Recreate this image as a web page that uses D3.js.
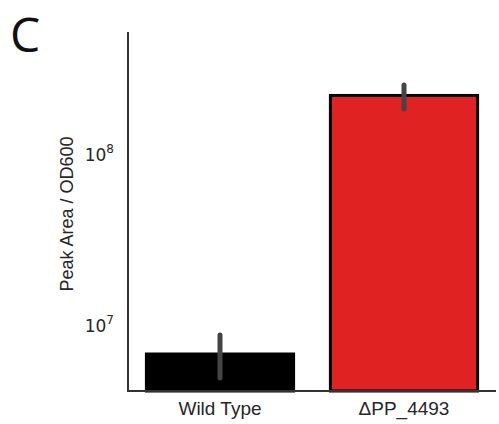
<!DOCTYPE html>
<html><head><meta charset="utf-8">
<script src="https://cdn.jsdelivr.net/npm/d3@7"></script>
<style>body{margin:0;background:#fff}svg{display:block}</style>
</head><body>
<svg id="c" width="499" height="424"></svg>
<script>
const categories = ["Wild Type", "ΔPP_4493"];
const values = [6.68e6, 2.17e8];
const errLow = [4.83e6, 1.81e8];
const errHigh = [8.63e6, 2.50e8];
const colors = ["#000000", "#E02222"];
const yTicks = [1e7, 1e8];
const yDomain = [4.06e6, 5.1e8];

const svg = d3.select("#c");
const x = d3.scaleBand().domain(categories).range([128, 496]).paddingInner(0.2).paddingOuter(0.1);
const y = d3.scaleLog().domain(yDomain).range([391, 32]);

// panel letter
svg.append("text").attr("x", 10).attr("y", 52).attr("font-family", "Open Sans").attr("font-size", 48).attr("fill", "#111").text("C");

// bars
svg.selectAll("rect.bar").data(categories).enter().append("rect")
  .attr("x", d => x(d)).attr("width", x.bandwidth())
  .attr("y", (d, i) => y(values[i])).attr("height", (d, i) => y.range()[0] - y(values[i]))
  .attr("fill", (d, i) => colors[i]).attr("stroke", "#000").attr("stroke-width", 3);

// error bars
svg.selectAll("line.err").data(categories).enter().append("line")
  .attr("x1", d => x(d) + x.bandwidth() / 2).attr("x2", d => x(d) + x.bandwidth() / 2)
  .attr("y1", (d, i) => y(errHigh[i])).attr("y2", (d, i) => y(errLow[i]))
  .attr("stroke", "#444").attr("stroke-width", 5).attr("stroke-linecap", "round");

// axes lines
svg.append("line").attr("x1", 128).attr("x2", 128).attr("y1", 32).attr("y2", 392).attr("stroke", "#333").attr("stroke-width", 2);
svg.append("line").attr("x1", 127).attr("x2", 496).attr("y1", 391).attr("y2", 391).attr("stroke", "#333").attr("stroke-width", 2);

// y tick labels
const yt = svg.selectAll("text.yt").data(yTicks).enter().append("text")
  .attr("x", 114).attr("y", d => y(d) + 7.5).attr("text-anchor", "end")
  .attr("font-family", "DejaVu Sans").attr("font-size", 17).attr("fill", "#262626");
yt.append("tspan").text("10");
yt.append("tspan").attr("dy", -7.5).attr("font-size", 12).text(d => Math.round(Math.log10(d)));

// x tick labels
svg.selectAll("text.xt").data(categories).enter().append("text")
  .attr("x", d => x(d) + x.bandwidth() / 2).attr("y", 415).attr("text-anchor", "middle")
  .attr("font-family", "Liberation Sans").attr("font-size", 19).attr("fill", "#262626").text(d => d);

// y label
svg.append("text").attr("transform", "translate(73,214) rotate(-90)").attr("text-anchor", "middle")
  .attr("font-family", "Liberation Sans").attr("font-size", 18).attr("fill", "#262626").text("Peak Area / OD600");
</script>
</body></html>
